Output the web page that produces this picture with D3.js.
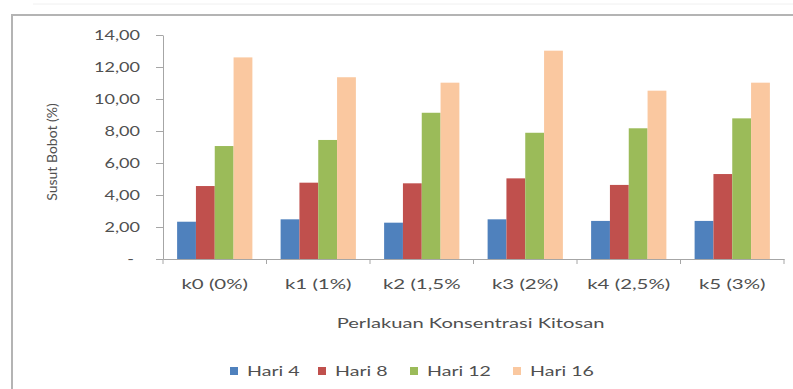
<!DOCTYPE html>
<html>
<head>
<meta charset="utf-8">
<script src="https://cdn.jsdelivr.net/npm/d3@7"></script>
<style>
  html, body { margin: 0; padding: 0; background: #fff; }
  svg { display: block; }
  text { font-family: Lato, "Open Sans", sans-serif; fill: #505050; }
</style>
</head>
<body>
<svg id="chart" width="793" height="389"></svg>
<script>
// Categories: chitosan concentration treatments
const categories = ["k0 (0%)", "k1 (1%)", "k2 (1,5%", "k3 (2%)", "k4 (2,5%)", "k5 (3%)"];
const seriesNames = ["Hari 4", "Hari 8", "Hari 12", "Hari 16"];
// Weight loss (%) per day of storage
const hari4  = [2.33, 2.48, 2.27, 2.48, 2.38, 2.38];
const hari8  = [4.56, 4.77, 4.73, 5.04, 4.63, 5.31];
const hari12 = [7.06, 7.44, 9.14, 7.89, 8.17, 8.79];
const hari16 = [12.60, 11.36, 11.02, 13.02, 10.52, 11.02];
const yTicks = [0, 2, 4, 6, 8, 10, 12, 14];
const colors = ["#4F81BD", "#C0504D", "#9BBB59", "#FAC8A0"];

const seriesValues = [hari4, hari8, hari12, hari16];
const rows = categories.map((c, i) => ({
  cat: c,
  vals: seriesNames.map((s, j) => ({ name: s, value: seriesValues[j][i] }))
}));

const svg = d3.select("#chart");

// faint rule above the frame
svg.append("line").attr("x1", 33).attr("x2", 793).attr("y1", 4).attr("y2", 4)
  .attr("stroke", "#f0f0f0").attr("stroke-width", 1);

// outer chart frame
svg.append("rect")
  .attr("x", 12).attr("y", 15).attr("width", 800).attr("height", 400)
  .attr("fill", "none").attr("stroke", "#b4b4b4").attr("stroke-width", 2);

const plotLeft = 163, plotRight = 784, plotTop = 35, plotBottom = 259;
const fontSize = 14;
// horizontal widening of the labels (wide-set lettering)
const sxTick = 1.29, sxCat = 1.46, sxTitle = 1.44, sxLegend = 1.4;

const x0 = d3.scaleBand().domain(categories).range([plotLeft, plotRight]).padding(0);
const x1 = d3.scaleBand().domain(seriesNames).range([0, x0.bandwidth()])
  .paddingInner(0).paddingOuter(0.75);
const y = d3.scaleLinear().domain([0, 14]).range([plotBottom, plotTop]);
const color = d3.scaleOrdinal().domain(seriesNames).range(colors);

// bars
const groups = svg.append("g").selectAll("g").data(rows).join("g")
  .attr("transform", d => `translate(${x0(d.cat)},0)`);
groups.selectAll("rect").data(d => d.vals).join("rect")
  .attr("x", d => x1(d.name))
  .attr("y", d => y(d.value))
  .attr("width", x1.bandwidth())
  .attr("height", d => y(0) - y(d.value))
  .attr("fill", d => color(d.name));

// y axis
const fmt = v => v === 0 ? "-" : d3.format(".2f")(v).replace(".", ",");
const yAxis = svg.append("g").attr("transform", `translate(${plotLeft},0)`)
  .call(d3.axisLeft(y).tickValues(yTicks).tickFormat(fmt).tickSizeInner(7).tickSizeOuter(0).tickPadding(10));
yAxis.selectAll("line, path").attr("stroke", "#a6a6a6");
yAxis.selectAll(".tick text")
  .attr("font-size", fontSize).style("fill", "#505050")
  .attr("x", d => (d === 0 ? -29 : -23) / sxTick)
  .attr("transform", `scale(${sxTick},1)`);

// x axis
const xAxis = svg.append("g").attr("transform", `translate(0,${plotBottom})`)
  .call(d3.axisBottom(x0).tickSize(0).tickPadding(20));
xAxis.select("path").attr("stroke", "#a6a6a6");
xAxis.selectAll(".tick text")
  .attr("font-size", fontSize).style("fill", "#505050")
  .attr("transform", `scale(${sxCat},1)`);
// boundary ticks between categories
const bounds = categories.map(c => x0(c)).concat([plotRight]);
svg.append("g").selectAll("line").data(bounds).join("line")
  .attr("x1", d => d).attr("x2", d => d)
  .attr("y1", plotBottom).attr("y2", plotBottom + 5)
  .attr("stroke", "#a6a6a6");

// axis titles
svg.append("g")
  .attr("transform", `translate(${(plotLeft + plotRight) / 2 - 3},328) scale(${sxTitle},1)`)
  .append("text").attr("text-anchor", "middle").attr("font-size", fontSize)
  .text("Perlakuan Konsentrasi Kitosan");
svg.append("text")
  .attr("transform", `translate(57,152) rotate(-90)`)
  .attr("text-anchor", "middle").attr("font-size", fontSize)
  .text("Susut Bobot (%)");

// legend
const legendX = [230, 318, 410, 513];
const legend = svg.append("g").selectAll("g").data(seriesNames).join("g")
  .attr("transform", (d, i) => `translate(${legendX[i]},371)`);
legend.append("rect").attr("x", 0).attr("y", -4).attr("width", 8).attr("height", 8)
  .attr("fill", d => color(d));
legend.append("g").attr("transform", `translate(17,0) scale(${sxLegend},1)`)
  .append("text").attr("dy", "0.35em")
  .attr("font-size", fontSize).text(d => d);
</script>
</body>
</html>
